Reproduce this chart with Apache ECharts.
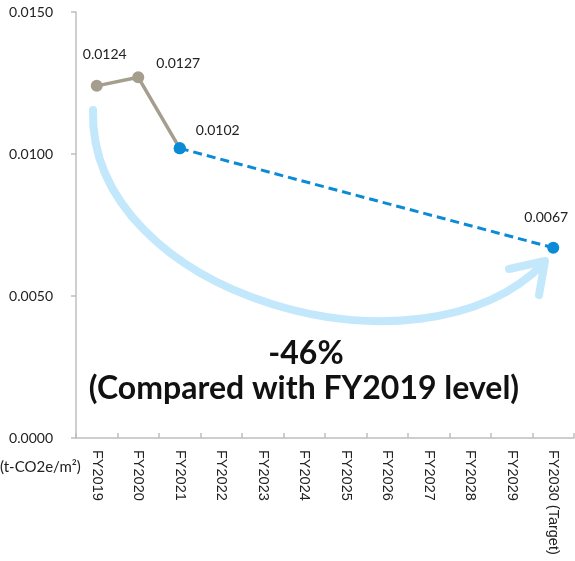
<!DOCTYPE html>
<html>
<head>
<meta charset="utf-8">
<script src="https://cdn.jsdelivr.net/npm/echarts@6/dist/echarts.min.js"></script>
<style>
  html, body { margin: 0; padding: 0; background: #fff; }
  #chart { width: 575px; height: 561px; }
</style>
</head>
<body>
<div id="chart"></div>
<script>
// Emission intensity per floor area, actuals and FY2030 target
const categories = ['FY2019', 'FY2020', 'FY2021', 'FY2022', 'FY2023', 'FY2024',
  'FY2025', 'FY2026', 'FY2027', 'FY2028', 'FY2029', 'FY2030 (Target)'];
const actualValues = [0.0124, 0.0127, 0.0102, null, null, null, null, null, null, null, null, null];
const targetValues = [null, null, 0.0102, null, null, null, null, null, null, null, null, 0.0067];
const yTicks = [0, 0.005, 0.01, 0.015];
const unitLabel = '(t-CO2e/m²)';
const reductionText = '-46%';
const reductionNote = '(Compared with FY2019 level)';

const FONT = 'Lato, "Open Sans", sans-serif';
const CAT_FONT = '"Liberation Sans", Arial, sans-serif';
const GRAY = '#a59e8f';
const BLUE = '#0b8bd6';
const ARC = '#c4e8fb';

// label offsets per point (px), keyed by category index
const actualLabelOffset = { 0: [8, -13], 1: [40, 4] };
const targetLabelOffset = { 2: [38, 0], 11: [-7, -12] };

function buildData(values, offsets, colorFor) {
  return values.map((v, i) => {
    if (v === null) return null;
    const item = { value: v, itemStyle: { color: colorFor(i) } };
    if (offsets[i]) {
      item.label = { show: true, offset: offsets[i] };
    } else {
      item.label = { show: false };
    }
    return item;
  });
}

const chart = echarts.init(document.getElementById('chart'), null, { renderer: 'canvas' });

chart.setOption({
  animation: false,
  backgroundColor: '#fff',
  textStyle: { fontFamily: FONT },
  grid: { left: 76, right: 1, top: 12, bottom: 123, containLabel: false },
  xAxis: {
    type: 'category',
    data: categories,
    boundaryGap: true,
    axisLine: { show: true, lineStyle: { color: '#bfbfbf', width: 1.5 } },
    axisTick: { show: true, inside: true, length: 5, lineStyle: { color: '#bfbfbf', width: 1.5 } },
    axisLabel: {
      rotate: -90,
      margin: 12,
      interval: 0,
      color: '#222',
      fontSize: 14.5,
      fontFamily: CAT_FONT
    },
    splitLine: { show: false }
  },
  yAxis: {
    type: 'value',
    min: yTicks[0],
    max: yTicks[yTicks.length - 1],
    interval: yTicks[1] - yTicks[0],
    axisLine: { show: true, lineStyle: { color: '#bfbfbf', width: 1.5 } },
    axisTick: { show: true, inside: false, length: 5, lineStyle: { color: '#bfbfbf', width: 1.5 } },
    axisLabel: {
      margin: 23,
      color: '#222',
      fontSize: 14,
      fontFamily: FONT,
      formatter: v => v.toFixed(4)
    },
    splitLine: { show: false }
  },
  series: [
    {
      type: 'line',
      data: buildData(actualValues, actualLabelOffset, i => (i === 2 ? BLUE : GRAY)),
      symbol: 'circle',
      symbolSize: 12,
      lineStyle: { color: GRAY, width: 3.5 },
      label: {
        position: 'top',
        distance: 5,
        color: '#222',
        fontSize: 14,
        fontFamily: FONT,
        formatter: p => p.value.toFixed(4)
      },
      z: 3
    },
    {
      type: 'line',
      data: buildData(targetValues, targetLabelOffset, () => BLUE),
      connectNulls: true,
      symbol: 'circle',
      symbolSize: 12,
      lineStyle: { color: BLUE, width: 3, type: [9, 5] },
      label: {
        position: 'top',
        distance: 5,
        color: '#222',
        fontSize: 14,
        fontFamily: FONT,
        formatter: p => p.value.toFixed(4)
      },
      z: 4
    }
  ],
  graphic: [
    {
      type: 'bezierCurve',
      shape: { x1: 93, y1: 110, cpx1: 88, cpy1: 295, cpx2: 420, cpy2: 390, x2: 544, y2: 263 },
      style: { stroke: ARC, lineWidth: 8, fill: null, lineCap: 'round' },
      z: 1
    },
    {
      type: 'polyline',
      shape: { points: [[509, 269], [545, 261], [539, 295]] },
      style: { stroke: ARC, lineWidth: 8, fill: null, lineCap: 'round', lineJoin: 'round' },
      z: 1
    },
    {
      type: 'text',
      x: 306, y: 354,
      style: {
        text: reductionText,
        fill: '#111',
        font: 'bold 32px ' + FONT,
        align: 'center',
        verticalAlign: 'middle'
      },
      z: 10
    },
    {
      type: 'text',
      x: 304, y: 389,
      style: {
        text: reductionNote,
        fill: '#111',
        font: 'bold 32px ' + FONT,
        align: 'center',
        verticalAlign: 'middle'
      },
      z: 10
    },
    {
      type: 'text',
      x: 0, y: 467,
      style: {
        text: unitLabel,
        fill: '#222',
        font: '15px ' + FONT,
        align: 'left',
        verticalAlign: 'middle'
      },
      z: 10
    }
  ]
});
</script>
</body>
</html>
